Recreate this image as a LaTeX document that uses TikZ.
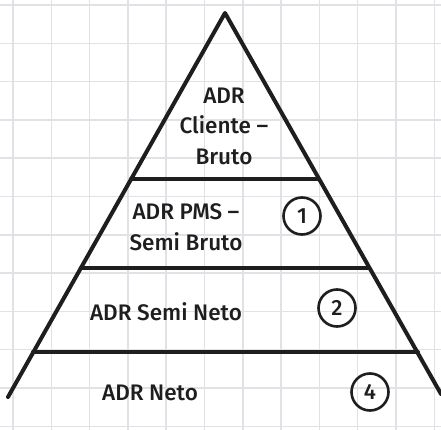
\documentclass[tikz,border=0pt]{standalone}
\usepackage{fontspec}
\setmainfont{Fira Sans}[UprightFont=* Medium]
\definecolor{gridc}{RGB}{224,226,230}
\definecolor{ink}{RGB}{30,30,30}
\tikzset{
  pyr/.style={draw=ink, line width=4pt, line cap=round, line join=round},
  lvl/.style={font=\fontsize{22.5}{30.5}\selectfont, text=ink, align=center, inner sep=0pt},
  num/.style={draw=ink, line width=2.6pt, circle, minimum size=37pt, inner sep=0pt,
              font=\fontsize{22}{22}\selectfont, text=ink}
}
\begin{document}
\begin{tikzpicture}[x=1pt,y=-1pt]
\useasboundingbox (0,0) rectangle (441,430);
\fill[white] (0,0) rectangle (441,430);
% grid
\foreach \i in {0,...,11} {
  \draw[gridc, line width=1.5pt] ({13+38.3*\i},0) -- ({13+38.3*\i},430);
  \draw[gridc, line width=1.5pt] (0,{5+38.3*\i}) -- (441,{5+38.3*\i});
}
% pyramid outline
\coordinate (apex) at (225,13);
\coordinate (bl) at (8,397);
\coordinate (br) at (441,394);
\draw[pyr] (bl) -- (apex) -- (br);
% level separators
\coordinate (l1a) at (131,179); \coordinate (l1b) at (318,179);
\coordinate (l2a) at (81,268);  \coordinate (l2b) at (369,268);
\coordinate (l3a) at (33,352);  \coordinate (l3b) at (418,352);
\draw[pyr] (l1a) -- (l1b);
\draw[pyr] (l2a) -- (l2b);
\draw[pyr] (l3a) -- (l3b);
% labels
\node[lvl] (t1) at (224,126) {ADR\\Cliente –\\Bruto};
\node[lvl] (t2) at (186,227) {ADR PMS –\\Semi Bruto};
\node[lvl] (t3) at (166,312) {ADR Semi Neto};
\node[lvl] (t4) at (150,393) {ADR Neto};
% numbers
\node[num] (n1) at (302,216) {1};
\node[num] (n2) at (337,308) {2};
\node[num] (n4) at (370,392) {4};
\end{tikzpicture}
\end{document}
